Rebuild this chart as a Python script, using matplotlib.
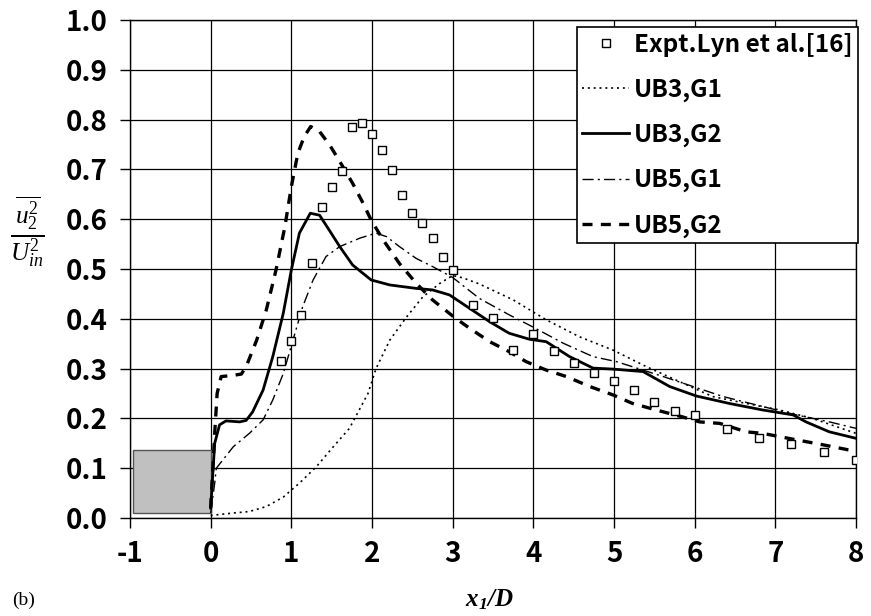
import matplotlib
matplotlib.use("Agg")
from matplotlib import pyplot as plt
from matplotlib.patches import Rectangle

# experiment (squares)
exp_x = [0.875, 1.0, 1.125, 1.25, 1.375, 1.5, 1.625, 1.75, 1.875, 2.0, 2.125, 2.25,
         2.375, 2.5, 2.625, 2.75, 2.875, 3.0, 3.25, 3.5, 3.75, 4.0, 4.25, 4.5, 4.75,
         5.0, 5.25, 5.5, 5.75, 6.0, 6.4, 6.8, 7.2, 7.6, 8.0]
exp_y = [0.315, 0.355, 0.408, 0.513, 0.625, 0.664, 0.697, 0.786, 0.793, 0.771, 0.739, 0.699,
         0.649, 0.612, 0.592, 0.563, 0.525, 0.498, 0.428, 0.401, 0.337, 0.369, 0.335, 0.312, 0.292,
         0.275, 0.257, 0.233, 0.215, 0.206, 0.178, 0.161, 0.148, 0.133, 0.116]

ub3g1_x = [0.0, 0.28, 0.48, 0.69, 0.9, 1.1, 1.31, 1.52, 1.72, 1.95, 2.05, 2.22, 2.43, 2.63,
           2.84, 3.0, 3.13, 3.33, 3.75, 4.16, 4.57, 4.99, 5.4, 5.81, 6.22, 6.64, 7.05, 7.46, 8.0]
ub3g1_y = [0.005, 0.01, 0.013, 0.023, 0.042, 0.07, 0.103, 0.143, 0.18, 0.25, 0.3, 0.357, 0.404, 0.444,
           0.471, 0.487, 0.482, 0.47, 0.438, 0.398, 0.364, 0.337, 0.304, 0.274, 0.244, 0.23, 0.217, 0.2, 0.17]

ub3g2_x = [0.0, 0.05, 0.11, 0.19, 0.36, 0.44, 0.52, 0.65, 0.77, 0.9, 1.0, 1.1, 1.235, 1.35,
           1.47, 1.6, 1.76, 1.99, 2.22, 2.55, 2.75, 2.96, 3.21, 3.46, 3.7, 3.95, 4.16, 4.45,
           4.74, 4.99, 5.36, 5.69, 6.02, 6.43, 6.84, 7.22, 7.38, 7.67, 8.0]
ub3g2_y = [0.02, 0.15, 0.187, 0.195, 0.193, 0.196, 0.213, 0.257, 0.324, 0.411, 0.498, 0.572, 0.612, 0.608,
           0.578, 0.545, 0.508, 0.478, 0.468, 0.461, 0.458, 0.448, 0.421, 0.394, 0.371, 0.359, 0.354, 0.324,
           0.301, 0.299, 0.294, 0.264, 0.245, 0.23, 0.217, 0.207, 0.193, 0.173, 0.16]

ub5g1_x = [0.0, 0.05, 0.07, 0.28, 0.48, 0.65, 0.77, 0.9, 1.02, 1.14, 1.27, 1.43, 1.6, 1.85,
           2.05, 2.18, 2.34, 2.55, 2.75, 3.0, 3.33, 3.7, 3.99, 4.37, 4.74, 5.03, 5.36, 5.61,
           5.98, 6.35, 6.84, 7.26, 7.67, 8.0]
ub5g1_y = [0.01, 0.07, 0.1, 0.143, 0.17, 0.197, 0.237, 0.29, 0.357, 0.424, 0.478, 0.525, 0.545, 0.562,
           0.572, 0.565, 0.545, 0.521, 0.505, 0.483, 0.441, 0.408, 0.384, 0.351, 0.324, 0.314, 0.297, 0.284,
           0.264, 0.244, 0.224, 0.207, 0.193, 0.18]

ub5g2_x = [0.0, 0.05, 0.08, 0.13, 0.26, 0.38, 0.44, 0.57, 0.69, 0.81, 0.92, 1.0, 1.08, 1.16,
           1.24, 1.35, 1.475, 1.6, 1.76, 1.89, 1.99, 2.14, 2.34, 2.55, 2.75, 3.02, 3.21, 3.46,
           3.7, 3.91, 4.16, 4.41, 4.7, 4.99, 5.23, 5.52, 5.85, 6.06, 6.31, 6.64, 6.84, 7.26,
           7.59, 7.9, 8.0]
ub5g2_y = [0.02, 0.17, 0.25, 0.284, 0.286, 0.289, 0.304, 0.357, 0.418, 0.498, 0.585, 0.665, 0.732, 0.766,
           0.786, 0.776, 0.749, 0.716, 0.672, 0.632, 0.598, 0.558, 0.511, 0.471, 0.438, 0.403, 0.381, 0.354,
           0.334, 0.314, 0.297, 0.284, 0.264, 0.247, 0.23, 0.217, 0.203, 0.193, 0.19, 0.173, 0.17, 0.157,
           0.147, 0.137, 0.135]

# cylinder drawn as a grey box
body_x = (-0.96, 0.0)
body_y = (0.01, 0.137)

x_ticks = list(range(-1, 9))
y_ticks = [i / 10 for i in range(11)]

plt.rcParams['mathtext.fontset'] = 'custom'
plt.rcParams['mathtext.rm'] = 'Liberation Serif'
plt.rcParams['mathtext.it'] = 'Liberation Serif:italic'
plt.rcParams['mathtext.bf'] = 'Liberation Serif:italic:bold'

tick_font = dict(family='Noto Sans CJK JP', weight='bold', size=20)

fig = plt.figure(figsize=(8.71, 6.16), dpi=100)
ax = fig.add_axes([130 / 871, 1 - 518 / 616, 726 / 871, 498 / 616])

ax.add_patch(Rectangle((body_x[0], body_y[0]), body_x[1] - body_x[0], body_y[1] - body_y[0],
                       facecolor='#c0c0c0', edgecolor='#555555', lw=1, zorder=2))

ax.plot(exp_x, exp_y, ls='none', marker='s', ms=6, mfc='white', mec='black', mew=1,
        label='Expt.Lyn et al.[16]', zorder=5)
ax.plot(ub3g1_x, ub3g1_y, color='black', lw=1.2, ls=(0, (1.2, 2.3)), label='UB3,G1', zorder=3)
ax.plot(ub3g2_x, ub3g2_y, color='black', lw=2.0, ls='-', label='UB3,G2', zorder=4)
ax.plot(ub5g1_x, ub5g1_y, color='black', lw=1.0, ls=(0, (8, 3, 1.5, 3)), label='UB5,G1', zorder=3)
ax.plot(ub5g2_x, ub5g2_y, color='black', lw=2.4, ls=(0, (3, 2.5)), label='UB5,G2', zorder=4)

ax.set_xlim(-1, 8)
ax.set_ylim(0, 1.0)
ax.set_xticks(x_ticks)
ax.set_yticks(y_ticks)
ax.set_xticklabels([str(t) for t in x_ticks], fontdict=tick_font)
ax.set_yticklabels(['%.1f' % t for t in y_ticks], fontdict=tick_font)
ax.tick_params(direction='out', length=7, width=1, color='black', pad=9)
ax.grid(True, color='black', lw=0.9)
ax.set_axisbelow(True)
for s in ax.spines.values():
    s.set_linewidth(1)
    s.set_color('black')

leg = ax.legend(loc='upper right', bbox_to_anchor=(1.003, 0.985), borderaxespad=0,
                prop=dict(family='Noto Sans CJK JP', weight='bold', size=17.5),
                handlelength=1.95, handletextpad=0.2, labelspacing=0.86,
                borderpad=0.22, fancybox=False, framealpha=1, edgecolor='black')
leg.get_frame().set_linewidth(1.2)

fig.text(27 / 871, 1 - 232 / 616, r'$\frac{\overline{u_2^2}}{U_{in}^2}$', fontsize=26,
         ha='center', va='center')
fig.text(489 / 871, 1 - 600 / 616, r'$\mathbf{x_1/D}$', fontsize=18, ha='center', va='center')
fig.text(12 / 871, 1 - 600 / 616, '(b)', family='Liberation Serif', fontsize=14,
         ha='left', va='center')

fig.savefig('out.png', dpi=100)
